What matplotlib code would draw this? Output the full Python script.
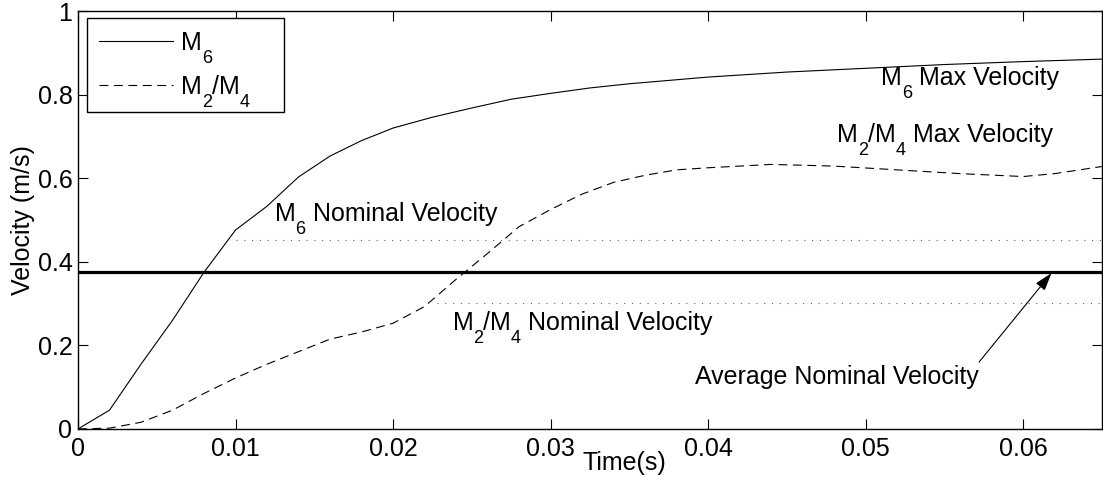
import numpy as np
import matplotlib
matplotlib.use('Agg')
import matplotlib.pyplot as plt
from matplotlib.transforms import offset_copy, IdentityTransform

plt.rcParams['font.family'] = ['Liberation Sans', 'DejaVu Sans']

# velocity curves
t_m6 = [0, 0.002, 0.004, 0.006, 0.008, 0.010, 0.012, 0.014, 0.016, 0.018,
        0.020, 0.0225, 0.025, 0.0275, 0.030, 0.0325, 0.035, 0.040, 0.045,
        0.050, 0.055, 0.060, 0.065]
v_m6 = [0, 0.045, 0.155, 0.26, 0.375, 0.476, 0.533, 0.603, 0.653, 0.69,
        0.72, 0.746, 0.768, 0.789, 0.803, 0.816, 0.826, 0.842, 0.854,
        0.863, 0.872, 0.879, 0.885]

t_m24 = [0, 0.002, 0.004, 0.006, 0.008, 0.010, 0.012, 0.014, 0.016, 0.018,
         0.020, 0.022, 0.024, 0.026, 0.028, 0.030, 0.032, 0.034, 0.036,
         0.038, 0.040, 0.044, 0.048, 0.052, 0.056, 0.060, 0.062, 0.065]
v_m24 = [0, 0.002, 0.016, 0.045, 0.085, 0.122, 0.155, 0.185, 0.215, 0.232,
         0.253, 0.293, 0.358, 0.42, 0.484, 0.525, 0.562, 0.59, 0.607,
         0.62, 0.625, 0.633, 0.629, 0.62, 0.611, 0.604, 0.611, 0.628]

avg_nominal = 0.375
m6_nominal = 0.452
m6_nominal_start = 0.010
m24_nominal = 0.301
m24_nominal_start = 0.0228

xticks = [0, 0.01, 0.02, 0.03, 0.04, 0.05, 0.06]
xticklabels = ['0', '0.01', '0.02', '0.03', '0.04', '0.05', '0.06']
yticks = [0, 0.2, 0.4, 0.6, 0.8, 1.0]
yticklabels = ['0', '0.2', '0.4', '0.6', '0.8', '1']

# label pieces: (text, is_subscript)
lab_m6 = [('M', False), ('6', True)]
lab_m24 = [('M', False), ('2', True), ('/M', False), ('4', True)]

fs = 18
DPI = 100

fig = plt.figure(figsize=(11.03, 4.8), dpi=DPI)
ax = fig.add_axes([0.0707, 0.1063, 0.9283, 0.8707])
renderer = fig.canvas.get_renderer()


def sub_text(x, y, parts, transform, size=fs, z=3):
    # MATLAB-style subscripts: smaller and dropped well below the baseline
    dx = 0.0
    drop = 0.52 * size * DPI / 72.0
    for s, is_sub in parts:
        tr = offset_copy(transform, fig=fig, x=dx, y=-drop if is_sub else 0,
                         units='dots')
        t = ax.text(x, y, s, fontsize=size * 0.72 if is_sub else size,
                    va='baseline', ha='left', transform=tr, clip_on=False,
                    zorder=z)
        dx += t.get_window_extent(renderer).width


ax.plot(t_m6, v_m6, color='black', lw=0.8, label='M6')
ax.plot(t_m24, v_m24, color='black', lw=0.8, dashes=(8, 5), label='M2/M4  ')
ax.plot([0, 0.065], [avg_nominal, avg_nominal], color='black', lw=2.3)
ax.plot([m6_nominal_start, 0.065], [m6_nominal, m6_nominal], color='#666666',
        lw=0.8, linestyle=(0, (1, 6)))
ax.plot([m24_nominal_start, 0.065], [m24_nominal, m24_nominal], color='#666666',
        lw=0.8, linestyle=(0, (1, 6)))

ax.set_xlim(0, 0.065)
ax.set_ylim(0, 1)
ax.set_xticks(xticks)
ax.set_xticklabels(xticklabels)
ax.set_yticks(yticks)
ax.set_yticklabels(yticklabels)
ax.tick_params(direction='in', length=7.5, width=0.8, labelsize=fs,
               top=True, right=True)
ax.tick_params(axis='x', pad=6)
ax.tick_params(axis='y', pad=4)
for s in ax.spines.values():
    s.set_linewidth(1.0)

ax.set_ylabel('Velocity (m/s)', fontsize=fs, labelpad=2)
ax.set_xlabel('Time(s)', fontsize=fs)
ax.xaxis.set_label_coords(0.534, -0.053)

sub_text(0.0510, 0.823, lab_m6 + [(' Max Velocity', False)], ax.transData)
sub_text(0.0482, 0.687, lab_m24 + [(' Max Velocity', False)], ax.transData)
sub_text(0.01249, 0.4976, lab_m6 + [(' Nominal Velocity', False)], ax.transData)
sub_text(0.02378, 0.237, lab_m24 + [(' Nominal Velocity', False)], ax.transData)
ax.text(0.0392, 0.1077, 'Average Nominal Velocity', fontsize=fs, va='baseline')
ax.annotate('', xy=(0.0618, 0.373), xytext=(0.0572, 0.160),
            arrowprops=dict(arrowstyle='-|>,head_length=1.1,head_width=0.35',
                            color='black', lw=0.8, shrinkA=0, shrinkB=0))

leg = ax.legend(loc='upper left', bbox_to_anchor=(0.0088, 0.983),
                borderaxespad=0, fancybox=False, framealpha=1, fontsize=fs,
                handlelength=2.95, handletextpad=0.32, borderpad=0.5,
                labelspacing=0.82)
leg.get_frame().set_edgecolor('black')
leg.get_frame().set_linewidth(1.0)

# swap the plain legend labels for subscripted ones at the same spot
fig.canvas.draw()
for t, parts in zip(leg.get_texts(), [lab_m6, lab_m24]):
    px, py = t.get_transform().transform(t.get_position())
    t.set_alpha(0)
    sub_text(px, py, parts, IdentityTransform(), z=10)

fig.savefig('out.png', dpi=DPI)
